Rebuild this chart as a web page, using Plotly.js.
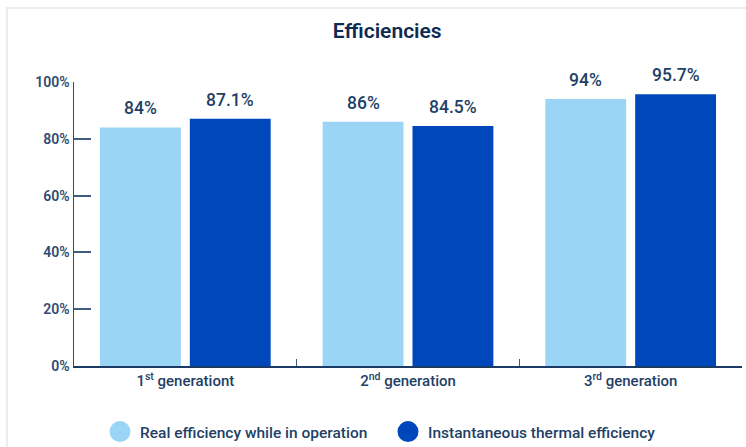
<!DOCTYPE html>
<html>
<head>
<meta charset="utf-8">
<script src="https://cdn.plot.ly/plotly-3.0.1.min.js"></script>
<style>
  html, body { margin: 0; padding: 0; background: #ffffff; }
  #frame { position: absolute; left: 6px; top: 7px; width: 900px; height: 600px;
           border-left: 2px solid #ececec; border-top: 2px solid #ececec; pointer-events: none; }
  #chart { position: absolute; left: 0; top: 0; width: 746px; height: 447px; }
</style>
</head>
<body>
<div id="frame"></div>
<div id="chart"></div>
<script>
// ---- data ----
const categories = ["1<sup>st</sup> generationt", "2<sup>nd</sup> generation", "3<sup>rd</sup> generation"];
const seriesNames = ["Real efficiency while in operation", "Instantaneous thermal efficiency"];
const realEfficiency = [84, 86, 94];
const thermalEfficiency = [87.1, 84.5, 95.7];
const yTickStep = 20;
const yTickSuffix = "%";

// ---- styling ----
const colors = ["#9ad5f5", "#0047bb"];
const navy = "#233f66";
const FONT = "Roboto, 'Open Sans', sans-serif";
const W = 746, H = 447;
const margin = {l: 74, r: 4, t: 82, b: 81};
const bargap = 0.193, bargroupgap = 0.1;

const seriesValues = [realEfficiency, thermalEfficiency];

const traces = [];
seriesValues.forEach((vals, i) => {
  traces.push({
    type: "bar", x: categories, y: vals, name: seriesNames[i],
    marker: {color: colors[i]}, showlegend: false, hoverinfo: "skip"
  });
});
// legend-only circle markers
seriesValues.forEach((vals, i) => {
  traces.push({
    type: "scatter", mode: "markers", x: [categories[0]], y: [null], name: seriesNames[i],
    marker: {symbol: "circle", size: 16, color: colors[i], line: {color: colors[i], width: 5}},
    showlegend: true, hoverinfo: "skip"
  });
});

// value labels above bars, offset by the computed group slot
const plotW = W - margin.l - margin.r;
const catW = plotW / categories.length;
const slot = catW * (1 - bargap) / seriesValues.length;
const annotations = [];
seriesValues.forEach((vals, i) => {
  const shift = (i - (seriesValues.length - 1) / 2) * slot;
  vals.forEach((v, j) => {
    annotations.push({
      x: categories[j], y: v, xref: "x", yref: "y", text: v + "%",
      showarrow: false, yanchor: "bottom", xanchor: "center",
      xshift: shift, yshift: 7,
      font: {family: FONT, size: 17.5, color: navy, weight: 500}
    });
  });
});

const layout = {
  width: W, height: H, margin: margin,
  paper_bgcolor: "rgba(0,0,0,0)", plot_bgcolor: "rgba(0,0,0,0)",
  barmode: "group", bargap: bargap, bargroupgap: bargroupgap,
  title: {text: "Efficiencies", x: 0.519, xref: "container", xanchor: "center",
          y: 0.932, yref: "container", yanchor: "middle",
          font: {family: FONT, size: 21, color: "#0e2a50", weight: 600}},
  xaxis: {
    type: "category", showline: true, linecolor: "#1b3a64", linewidth: 2,
    ticks: "inside", ticklen: 7, tickwidth: 1.5, tickcolor: "#3f5d80", tickson: "boundaries",
    tickfont: {family: FONT, size: 15, color: navy, weight: 500},
    showgrid: false, zeroline: false, fixedrange: true, automargin: false
  },
  yaxis: {
    range: [0, 100], tickmode: "linear", tick0: 0, dtick: yTickStep, ticksuffix: yTickSuffix,
    showticksuffix: "all",
    showline: true, linecolor: "#3f4a58", linewidth: 1.5,
    ticks: "inside", ticklen: 17, tickwidth: 2, tickcolor: "#3f5d80",
    tickfont: {family: FONT, size: 14, color: "#2e4c72", weight: 600},
    showgrid: false, zeroline: false, fixedrange: true
  },
  legend: {
    orientation: "h", x: 100 / W, xref: "container", xanchor: "left",
    y: (H - 432) / H, yref: "container", yanchor: "middle",
    entrywidth: 243, entrywidthmode: "pixels",
    font: {family: FONT, size: 15.5, color: navy, weight: 500},
    itemclick: false, itemdoubleclick: false
  },
  annotations: annotations,
  showlegend: true
};

Plotly.newPlot("chart", traces, layout, {displayModeBar: false, staticPlot: true});
</script>
</body>
</html>
